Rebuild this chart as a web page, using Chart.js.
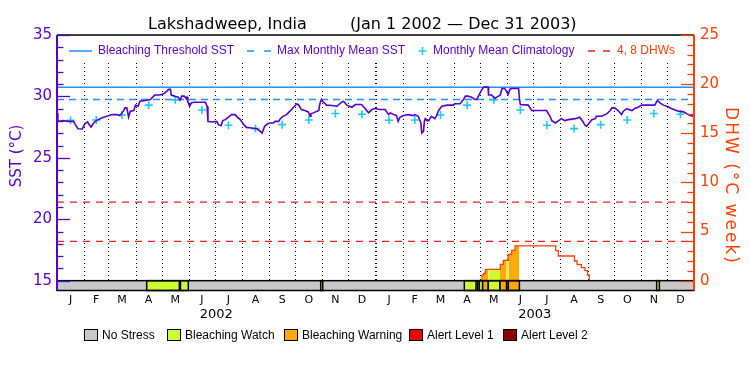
<!DOCTYPE html>
<html>
<head>
<meta charset="utf-8">
<script src="https://cdn.jsdelivr.net/npm/chart.js"></script>
<style>
  html, body { margin: 0; padding: 0; background: #fff; }
  #wrap { width: 750px; height: 375px; }
</style>
</head>
<body>
<div id="wrap"><canvas id="chart" width="750" height="375"></canvas></div>
<script>
// x values are days counted from Jan 1 2002 (0) to Dec 31 2003 (729)
const monthStarts = [0, 31, 59, 90, 120, 151, 181, 212, 243, 273, 304, 334,
  365, 396, 424, 455, 485, 516, 546, 577, 608, 638, 669, 699, 730];
const monthLetters = ['J', 'F', 'M', 'A', 'M', 'J', 'J', 'A', 'S', 'O', 'N', 'D'];
const years = ['2002', '2003'];

// daily-ish SST
const sstDays = [0, 1, 3, 7, 13, 19, 21, 24, 29, 32, 35, 37, 39, 42, 45, 51, 57, 63, 68, 72,
  76, 78, 80, 82, 84, 88, 90, 93, 95, 101, 107, 112, 118, 122, 126, 128, 130, 131, 135, 139,
  141, 143, 146, 148, 149, 150, 152, 154, 158, 170, 172, 173, 177, 183, 185, 188, 190, 193, 196, 200,
  204, 207, 210, 214, 217, 223, 229, 233, 235, 238, 241, 244, 248, 250, 254, 256, 259, 263, 267, 271,
  275, 277, 280, 284, 288, 290, 291, 294, 296, 300, 301, 303, 305, 309, 315, 321, 324, 328, 330, 332,
  338, 342, 349, 353, 357, 361, 364, 370, 376, 380, 382, 386, 389, 391, 393, 397, 403, 408, 410, 414,
  417, 418, 420, 421, 422, 424, 426, 429, 433, 435, 437, 439, 441, 447, 454, 456, 462, 464, 466, 468,
  471, 475, 479, 481, 484, 487, 489, 494, 494.5, 498, 502, 504, 508, 510, 513, 515, 517, 519, 521, 529,
  530, 531, 540, 544, 561, 565, 567, 571, 575, 578, 582, 586, 594, 599, 603, 605, 607, 609, 613, 617,
  618, 624, 630, 634, 636, 639, 643, 647, 649, 653, 655, 659, 662, 666, 670, 685, 688, 691, 695, 699,
  704, 712, 718, 722, 725, 729];
const sstValues = [28.66, 28.03, 27.97, 28.03, 27.97, 27.97, 27.70, 27.37, 27.35, 27.78, 27.92, 27.70, 27.51, 27.84, 28.03, 28.25, 28.38, 28.52, 28.52, 28.44,
  28.80, 29.07, 29.07, 28.33, 28.80, 28.85, 29.29, 29.20, 29.61, 29.67, 29.75, 30.11, 30.11, 30.21, 30.43, 30.57, 30.57, 30.11, 30.02, 29.94,
  29.70, 30.02, 30.02, 29.83, 29.94, 29.56, 29.20, 29.48, 29.53, 29.53, 29.20, 27.97, 27.92, 27.97, 27.70, 27.62, 28.03, 28.11, 28.30, 28.52,
  28.52, 28.30, 28.11, 27.70, 27.48, 27.43, 27.37, 27.15, 27.02, 27.57, 27.76, 27.84, 27.84, 27.97, 27.97, 28.19, 28.38, 28.52, 28.80, 29.12,
  29.40, 29.29, 28.93, 28.85, 28.74, 28.38, 28.58, 28.66, 28.74, 28.85, 29.34, 29.75, 29.56, 29.29, 29.26, 29.20, 29.40, 29.61, 29.48, 29.29,
  29.12, 29.34, 29.34, 29.01, 28.66, 28.93, 29.01, 28.93, 28.93, 28.52, 28.66, 28.52, 28.44, 27.97, 28.30, 28.44, 28.52, 28.44, 28.52, 28.38,
  27.84, 27.02, 27.15, 27.97, 28.19, 28.03, 28.03, 28.38, 28.19, 28.44, 28.80, 29.01, 29.20, 29.29, 29.29, 29.40, 29.40, 29.61, 29.75, 30.02,
  30.02, 29.94, 29.75, 29.75, 30.16, 30.57, 30.76, 30.76, 30.11, 30.11, 29.83, 29.94, 30.11, 30.65, 30.65, 30.43, 30.16, 30.57, 30.65, 30.65,
  29.75, 29.34, 29.29, 28.85, 28.85, 28.38, 28.03, 27.84, 28.03, 28.19, 28.03, 28.11, 28.19, 28.30, 27.92, 27.65, 27.57, 27.76, 28.11, 28.19,
  28.38, 28.38, 28.58, 28.85, 29.07, 29.07, 28.85, 28.52, 28.80, 29.01, 28.93, 28.85, 29.01, 29.12, 29.29, 29.29, 29.67, 29.48, 29.29, 29.20,
  29.01, 28.80, 28.74, 28.58, 28.47, 28.38];

// monthly mean climatology (Jan..Dec), same for both years
const climMonthly = [28.06, 28.08, 28.49, 29.29, 29.72, 28.90, 27.65, 27.38, 27.70, 28.08, 28.61, 28.55];
const mmmSST = 29.75;
const thresholdSST = 30.75;
const dhwLevels = [4, 8];

// degree heating weeks (value holds from that day on)
const dhwDays = [486, 487, 489, 491, 508, 511.5, 517, 521, 525, 571.5, 574.5, 593, 596, 601, 605, 608, 610];
const dhwValues = [0, 0.58, 0.75, 1.15, 1.66, 2.07, 2.67, 3.08, 3.55, 3.05, 2.51, 2.0, 1.63, 1.32, 1.02, 0.58, 0];

// stress level strip: 1 = watch, 2 = warning
const stressStart = [102.8, 141.5, 302.2, 466.8, 482.1, 484, 487.8, 494.3, 507.7, 515.3, 517.2, 687.2];
const stressEnd   = [140.2, 150.5, 304.5, 480.2, 484, 487.8, 494.3, 507.7, 515.3, 517.2, 529.9, 690.3];
const stressLevel = [1, 1, 1, 1, 1, 1, 2, 1, 2, 1, 2, 1];
const stressNames = ['No Stress', 'Bleaching Watch', 'Bleaching Warning', 'Alert Level 1', 'Alert Level 2'];
const stressColors = ['#c8c8c8', '#ccff33', '#fbaa0c', '#ee0000', '#8c0000'];

const purple = '#5500cc';
const threshBlue = '#1e90ff';
const cyan = '#1ec8ff';
const orangeRed = '#ff4000';
const dhwRed = '#e8201c';

const monthMid = monthStarts.slice(0, -1).map((s, i) => s + (monthStarts[i + 1] - s) / 2);

function dhwAt(d) {
  let v = 0;
  dhwDays.forEach((dd, i) => { if (dd <= d) v = dhwValues[i]; });
  return v;
}

// coloured fill under the DHW curve, following the stress strip
const fillSets = [];
stressStart.forEach((s, i) => {
  const e = stressEnd[i];
  const pts = [{ x: s, y: dhwAt(s) }];
  dhwDays.forEach((d, j) => { if (d > s && d < e) pts.push({ x: d, y: dhwValues[j] }); });
  pts.push({ x: e, y: dhwAt(e) });
  if (pts.some(p => p.y > 0)) {
    fillSets.push({
      data: pts, yAxisID: 'y2', stepped: true, fill: 'origin',
      backgroundColor: stressColors[stressLevel[i]], borderWidth: 0, pointRadius: 0
    });
  }
});

const datasets = [
  {
    label: 'SST', data: sstDays.map((d, i) => ({ x: d, y: sstValues[i] })),
    yAxisID: 'y', borderColor: purple, borderWidth: 1.6, pointRadius: 0, tension: 0
  },
  {
    label: 'Monthly Mean Climatology',
    data: monthMid.map((d, i) => ({ x: d, y: climMonthly[i % 12] })),
    yAxisID: 'y', showLine: false, pointStyle: 'cross', pointRadius: 4,
    borderColor: cyan, pointBorderWidth: 1.6
  },
  {
    label: 'Bleaching Threshold SST', data: [{ x: 0, y: thresholdSST }, { x: 730, y: thresholdSST }],
    yAxisID: 'y', borderColor: threshBlue, borderWidth: 1.5, pointRadius: 0
  },
  {
    label: 'Max Monthly Mean SST', data: [{ x: 0, y: mmmSST }, { x: 730, y: mmmSST }],
    yAxisID: 'y', borderColor: threshBlue, borderWidth: 1.5, borderDash: [7, 5], pointRadius: 0
  },
  ...dhwLevels.map(v => ({
    label: v + ' DHW', data: [{ x: 0, y: v }, { x: 730, y: v }],
    yAxisID: 'y2', borderColor: dhwRed, borderWidth: 1.2, borderDash: [7, 6], pointRadius: 0
  })),
  {
    label: 'DHW', data: dhwDays.map((d, i) => ({ x: d, y: dhwValues[i] })),
    yAxisID: 'y2', stepped: true, borderColor: orangeRed, borderWidth: 1.3, pointRadius: 0
  },
  ...fillSets
];

const deco = {
  id: 'deco',
  beforeDatasetsDraw(chart) {
    const { ctx, chartArea: a, scales: { x, y } } = chart;
    ctx.save();
    ctx.strokeStyle = '#000';
    ctx.setLineDash([1, 3]);
    for (let i = 1; i < monthStarts.length - 1; i++) {
      const yearLine = monthStarts[i] === 365;
      const px = Math.round(x.getPixelForValue(monthStarts[i])) + (yearLine ? 0 : 0.5);
      ctx.lineWidth = yearLine ? 2 : 1;
      ctx.beginPath();
      ctx.moveTo(px, a.top + 28);
      ctx.lineTo(px, y.getPixelForValue(15));
      ctx.stroke();
    }
    ctx.restore();
  },
  afterDatasetsDraw(chart) {
    const { ctx, chartArea: a, scales: { x, y, y2 } } = chart;
    const sTop = y.getPixelForValue(15), sBot = a.bottom;
    ctx.save();

    // stress strip
    ctx.fillStyle = stressColors[0];
    ctx.fillRect(a.left, sTop, a.right - a.left, sBot - sTop);
    ctx.strokeStyle = '#000';
    ctx.lineWidth = 1.5;
    stressStart.forEach((s, i) => {
      const x0 = x.getPixelForValue(s), x1 = x.getPixelForValue(stressEnd[i]);
      ctx.fillStyle = stressColors[stressLevel[i]];
      ctx.fillRect(x0, sTop, x1 - x0, sBot - sTop);
      ctx.strokeRect(x0, sTop, x1 - x0, sBot - sTop);
    });
    ctx.strokeRect(a.left, sTop, a.right - a.left, sBot - sTop);

    // top frame line
    ctx.lineWidth = 1.5;
    ctx.beginPath();
    ctx.moveTo(a.left, a.top); ctx.lineTo(a.right, a.top);
    ctx.stroke();

    // axis lines and inward ticks
    ctx.strokeStyle = purple;
    ctx.lineWidth = 2;
    ctx.beginPath();
    ctx.moveTo(a.left, a.top); ctx.lineTo(a.left, a.bottom);
    ctx.stroke();
    ctx.lineWidth = 1.3;
    for (let v = 15; v <= 35; v++) {
      const py = Math.round(y.getPixelForValue(v)) + 0.5;
      ctx.beginPath();
      ctx.moveTo(a.left, py); ctx.lineTo(a.left + (v % 5 === 0 ? 13 : 6.5), py);
      ctx.stroke();
    }
    ctx.strokeStyle = orangeRed;
    ctx.lineWidth = 2;
    ctx.beginPath();
    ctx.moveTo(a.right, a.top); ctx.lineTo(a.right, a.bottom);
    ctx.stroke();
    ctx.lineWidth = 1.3;
    for (let v = 0; v <= 25; v++) {
      const py = Math.round(y2.getPixelForValue(v)) + 0.5;
      ctx.beginPath();
      ctx.moveTo(a.right, py); ctx.lineTo(a.right - (v % 5 === 0 ? 13 : 6.5), py);
      ctx.stroke();
    }

    // legend inside the plot
    const ly = a.top + 16;
    ctx.font = '12px "Liberation Sans"';
    ctx.textBaseline = 'middle';
    ctx.textAlign = 'left';
    ctx.lineWidth = 1.5;
    ctx.strokeStyle = threshBlue;
    ctx.beginPath(); ctx.moveTo(69, ly); ctx.lineTo(92, ly); ctx.stroke();
    ctx.setLineDash([7, 10]);
    ctx.beginPath(); ctx.moveTo(247, ly); ctx.lineTo(271, ly); ctx.stroke();
    ctx.setLineDash([]);
    ctx.strokeStyle = cyan;
    ctx.beginPath();
    ctx.moveTo(418.5, ly); ctx.lineTo(426.5, ly);
    ctx.moveTo(422.5, ly - 4); ctx.lineTo(422.5, ly + 4);
    ctx.stroke();
    ctx.strokeStyle = dhwRed;
    ctx.setLineDash([7, 8]);
    ctx.beginPath(); ctx.moveTo(588, ly); ctx.lineTo(612, ly); ctx.stroke();
    ctx.setLineDash([]);
    ctx.fillStyle = purple;
    ctx.fillText('Bleaching Threshold SST', 98, ly);
    ctx.fillText('Max Monthly Mean SST', 277, ly);
    ctx.fillText('Monthly Mean Climatology', 433, ly);
    ctx.fillStyle = orangeRed;
    ctx.fillText('4, 8 DHWs', 617, ly);

    // title
    ctx.fillStyle = '#000';
    ctx.font = '16px "DejaVu Sans"';
    ctx.textBaseline = 'alphabetic';
    ctx.fillText('Lakshadweep, India', 148, 28.5);
    ctx.fillText('(Jan 1 2002 \u2014 Dec 31 2003)', 350, 28.5);

    // year labels
    ctx.font = '13px "DejaVu Sans"';
    ctx.textAlign = 'center';
    ctx.textBaseline = 'middle';
    years.forEach((yr, i) => {
      ctx.fillText(yr, x.getPixelForValue(monthStarts[12 * i] + 182.5), 315);
    });

    // axis titles
    ctx.save();
    ctx.fillStyle = purple;
    ctx.font = '15px "DejaVu Sans"';
    ctx.translate(17, 156);
    ctx.rotate(-Math.PI / 2);
    ctx.fillText('SST (\u00b0C)', 0, 0);
    ctx.restore();
    ctx.save();
    ctx.fillStyle = orangeRed;
    ctx.font = '17px "DejaVu Sans"';
    ctx.letterSpacing = '2px';
    ctx.translate(730, 186);
    ctx.rotate(Math.PI / 2);
    ctx.fillText('DHW (\u00b0C week)', 0, 0);
    ctx.restore();

    // stress legend at the bottom
    const boxX = [84, 167, 284, 409, 503];
    ctx.font = '12px "Liberation Sans"';
    ctx.textAlign = 'left';
    ctx.lineWidth = 1;
    ctx.strokeStyle = '#000';
    stressNames.forEach((name, i) => {
      ctx.fillStyle = stressColors[i];
      ctx.fillRect(boxX[i] + 0.5, 329.5, 13, 11);
      ctx.strokeRect(boxX[i] + 0.5, 329.5, 13, 11);
      ctx.fillStyle = '#000';
      ctx.fillText(name, boxX[i] + 18, 335.5);
    });
    ctx.restore();
  }
};

new Chart(document.getElementById('chart'), {
  type: 'line',
  data: { datasets },
  options: {
    responsive: false,
    animation: false,
    devicePixelRatio: 1,
    layout: { padding: { top: 35, left: 0, right: 0, bottom: 0 } },
    plugins: { legend: { display: false }, tooltip: { enabled: false }, title: { display: false } },
    scales: {
      x: {
        type: 'linear', min: 0, max: 730,
        grid: { display: false, drawTicks: false }, border: { display: false },
        afterBuildTicks: s => { s.ticks = monthMid.map(v => ({ value: v })); },
        afterFit: s => { s.height = 84.5; },
        ticks: {
          autoSkip: false, maxRotation: 0, padding: 3, color: '#000',
          font: { family: 'DejaVu Sans', size: 11 },
          callback: (v, i) => monthLetters[i % 12]
        }
      },
      y: {
        position: 'left', min: 14.2, max: 35,
        grid: { display: false, drawTicks: false }, border: { display: false },
        afterBuildTicks: s => { s.ticks = [15, 20, 25, 30, 35].map(v => ({ value: v })); },
        afterFit: s => { s.width = 57; },
        ticks: { padding: 5, color: purple, font: { family: 'DejaVu Sans', size: 15 }, callback: v => String(v) }
      },
      y2: {
        position: 'right', min: -1, max: 25,
        grid: { display: false, drawTicks: false }, border: { display: false },
        afterBuildTicks: s => { s.ticks = [0, 5, 10, 15, 20, 25].map(v => ({ value: v })); },
        afterFit: s => { s.width = 56; },
        ticks: { padding: 6, color: orangeRed, font: { family: 'DejaVu Sans', size: 15 }, callback: v => String(v) }
      }
    }
  },
  plugins: [deco]
});
</script>
</body>
</html>
